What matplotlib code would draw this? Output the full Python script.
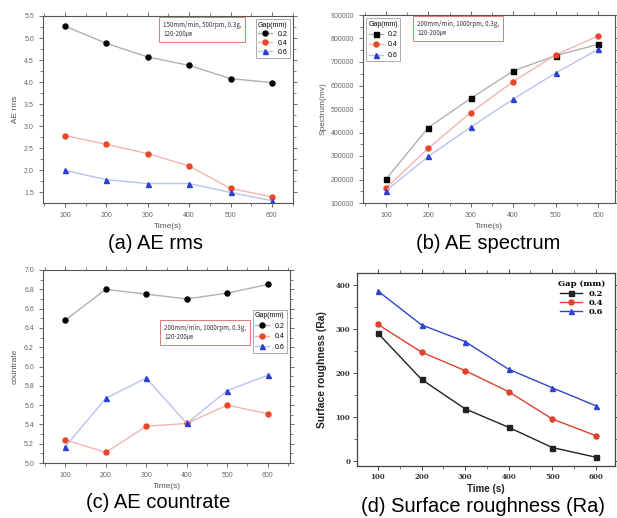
import matplotlib
matplotlib.use("Agg")
import matplotlib.pyplot as plt
from matplotlib.ticker import MultipleLocator
import numpy as np

plt.rcParams['font.family'] = ['Liberation Sans', 'DejaVu Sans']

time_s = [100, 200, 300, 400, 500, 600]
gaps = ["0.2", "0.4", "0.6"]

# (a) AE rms
rms_02 = [5.27, 4.88, 4.57, 4.38, 4.08, 3.99]
rms_04 = [2.79, 2.59, 2.38, 2.10, 1.59, 1.40]
rms_06 = [2.00, 1.79, 1.70, 1.70, 1.50, 1.31]

# (b) AE spectrum
spec_02 = [201000, 421000, 545000, 662000, 727000, 775000]
spec_04 = [163000, 333000, 485000, 617000, 730000, 811000]
spec_06 = [152000, 298000, 423000, 542000, 653000, 754000]

# (c) AE countrate
cnt_02 = [6.48, 6.80, 6.75, 6.70, 6.76, 6.85]
cnt_04 = [5.24, 5.11, 5.38, 5.41, 5.60, 5.51]
cnt_06 = [5.17, 5.67, 5.88, 5.41, 5.75, 5.91]

# (d) Surface roughness
ra_02 = [290, 185, 118, 76, 30, 8]
ra_04 = [310, 247, 205, 157, 95, 57]
ra_06 = [386, 309, 271, 208, 166, 125]

W, H = 617, 518
fig = plt.figure(figsize=(W / 100, H / 100), dpi=100)


def add_ax(l, r, t, b):
    return fig.add_axes([l / W, 1 - b / H, (r - l) / W, (b - t) / H])


def style_origin(ax, lw=0.8):
    for s in ax.spines.values():
        s.set_linewidth(lw)
        s.set_color('#555555')
    ax.tick_params(which='both', top=True, right=True, direction='out', colors='#555555',
                   labelsize=5, labelcolor='#666666')
    ax.tick_params(which='major', length=3, width=0.6)
    ax.tick_params(which='minor', length=2, width=0.5)
    ax.xaxis.set_minor_locator(MultipleLocator(50))


line_cols = ['#b0b0b0', '#f2b5b0', '#b7c3ee']
mk_cols = ['black', '#e8472a', '#2a3fd0']
MS = 3.6
CAP = 14.5

# ---------- (a) ----------
ax = add_ax(43, 293, 16, 203)
series = [rms_02, rms_04, rms_06]
mks = ['o', 'o', '^']
for i, s in enumerate(series):
    ax.plot(time_s, s, color=line_cols[i], lw=1.0, marker=mks[i], ms=MS,
            mfc=mk_cols[i], mec=mk_cols[i], label=gaps[i])
ax.set_xlim(47, 651)
ax.set_ylim(1.26, 5.5)
ax.set_xticks(time_s)
ax.set_yticks(np.arange(1.5, 5.51, 0.5))
ax.yaxis.set_minor_locator(MultipleLocator(0.25))
style_origin(ax)
ax.set_xlabel('Time(s)', fontsize=6, color='#555555', labelpad=3)
ax.set_ylabel('AE rms', fontsize=6, color='#555555', labelpad=4)
leg = ax.legend(title='Gap(mm)', loc='upper right', fontsize=5, title_fontsize=5,
                frameon=True, fancybox=False, edgecolor='#888888', borderpad=0.3,
                labelspacing=0.3, handlelength=2.0, bbox_to_anchor=(1.0, 1.0))
leg.get_frame().set_linewidth(0.6)
ax.text(0.48, 0.975, '150mm/min, 500rpm, 0.3g,\n120-200㎛', transform=ax.transAxes,
        fontsize=4.5, va='top', ha='left', color='#333333',
        family=['Noto Sans CJK JP'],
        bbox=dict(boxstyle='square,pad=0.6', fc='white', ec='#e07a70', lw=0.7))
fig.text(155 / W, 1 - 243 / H, '(a) AE rms', ha='center', va='center', fontsize=CAP)

# ---------- (b) ----------
ax = add_ax(363, 615, 15, 203)
mks = ['s', 'o', '^']
series = [spec_02, spec_04, spec_06]
for i, s in enumerate(series):
    ax.plot(time_s, s, color=line_cols[i], lw=1.0, marker=mks[i], ms=MS,
            mfc=mk_cols[i], mec=mk_cols[i], label=gaps[i])
ax.set_xlim(46, 640)
ax.set_ylim(100000, 900000)
ax.set_xticks(time_s)
ax.yaxis.set_major_locator(MultipleLocator(100000))
ax.yaxis.set_minor_locator(MultipleLocator(50000))
ax.yaxis.set_major_formatter(matplotlib.ticker.FuncFormatter(lambda v, p: f'{int(v)}'))
style_origin(ax)
ax.set_xlabel('Time(s)', fontsize=6, color='#555555', labelpad=3)
ax.set_ylabel('Spectrum(mv)', fontsize=6, color='#555555', labelpad=3)
leg = ax.legend(title='Gap(mm)', loc='upper left', fontsize=5, title_fontsize=5,
                frameon=True, fancybox=False, edgecolor='#888888', borderpad=0.3,
                labelspacing=0.5, handlelength=2.0, bbox_to_anchor=(0.0, 1.0))
leg.get_frame().set_linewidth(0.6)
ax.text(0.215, 0.975, '200mm/min, 1000rpm, 0.3g,\n120-200㎛', transform=ax.transAxes,
        fontsize=4.5, va='top', ha='left', color='#333333',
        family=['Noto Sans CJK JP'],
        bbox=dict(boxstyle='square,pad=0.6', fc='white', ec='#e07a70', lw=0.7))
fig.text(488 / W, 1 - 243 / H, '(b) AE spectrum', ha='center', va='center', fontsize=CAP)

# ---------- (c) ----------
ax = add_ax(43, 290, 270, 463)
mks = ['o', 'o', '^']
series = [cnt_02, cnt_04, cnt_06]
for i, s in enumerate(series):
    ax.plot(time_s, s, color=line_cols[i], lw=1.0, marker=mks[i], ms=MS,
            mfc=mk_cols[i], mec=mk_cols[i], label=gaps[i])
ax.set_xlim(45, 655)
ax.set_ylim(5.0, 7.0)
ax.set_xticks(time_s)
ax.yaxis.set_major_locator(MultipleLocator(0.2))
ax.yaxis.set_minor_locator(MultipleLocator(0.1))
ax.yaxis.set_major_formatter(matplotlib.ticker.FormatStrFormatter('%.1f'))
style_origin(ax)
ax.set_xlabel('Time(s)', fontsize=6, color='#555555', labelpad=3)
ax.set_ylabel('countrate', fontsize=6, color='#555555', labelpad=4)
leg = ax.legend(title='Gap(mm)', loc='upper right', fontsize=5, title_fontsize=5,
                frameon=True, fancybox=False, edgecolor='#888888', borderpad=0.3,
                labelspacing=0.5, handlelength=2.0, bbox_to_anchor=(1.0, 0.81))
leg.get_frame().set_linewidth(0.6)
ax.text(0.49, 0.72, '200mm/min, 1000rpm, 0.3g,\n120-200㎛', transform=ax.transAxes,
        fontsize=4.5, va='top', ha='left', color='#333333',
        family=['Noto Sans CJK JP'],
        bbox=dict(boxstyle='square,pad=0.6', fc='white', ec='#e07a70', lw=0.7))
fig.text(158 / W, 1 - 503 / H, '(c) AE countrate', ha='center', va='center', fontsize=CAP)

# ---------- (d) ----------
ax = add_ax(357, 615, 273, 466)
mks = ['s', 'o', '^']
d_line = ['#222222', '#e0402f', '#3145c9']
series = [ra_02, ra_04, ra_06]
for i, s in enumerate(series):
    ax.plot(time_s, s, color=d_line[i], lw=1.0, marker=mks[i], ms=MS,
            mfc=d_line[i], mec=d_line[i], label=gaps[i])
ax.set_xlim(52, 644)
ax.set_ylim(-12, 427)
ax.set_xticks(time_s)
ax.yaxis.set_major_locator(MultipleLocator(100))
ax.yaxis.set_minor_locator(MultipleLocator(50))
for s in ax.spines.values():
    s.set_linewidth(0.9)
    s.set_color('#444444')
ax.tick_params(which='both', top=True, right=True, direction='out', colors='#444444',
               labelsize=5, labelcolor='#333333', pad=2)
ax.tick_params(which='major', length=3, width=0.7)
ax.tick_params(which='minor', length=2, width=0.5)
ax.xaxis.set_minor_locator(MultipleLocator(50))
for lab in ax.get_xticklabels() + ax.get_yticklabels():
    lab.set_fontweight('bold')
    lab.set_family('DejaVu Serif')
ax.set_xlabel('Time (s)', fontsize=7, fontweight='bold', color='#222222', labelpad=2)
ax.set_ylabel('Surface roughness (Ra)', fontsize=7.5, fontweight='bold', color='#222222',
              labelpad=6)
leg = ax.legend(title='Gap (mm)', loc='upper right', frameon=False,
                prop=dict(family='DejaVu Serif', size=6, weight='bold'),
                labelspacing=0.15, handlelength=2.6, bbox_to_anchor=(0.99, 1.0))
leg.get_title().set_fontfamily('DejaVu Serif')
leg.get_title().set_fontweight('bold')
leg.get_title().set_fontsize(6)
fig.text(483 / W, 1 - 506 / H, '(d) Surface roughness (Ra)', ha='center', va='center',
         fontsize=CAP)

fig.savefig('out.png', dpi=100)
